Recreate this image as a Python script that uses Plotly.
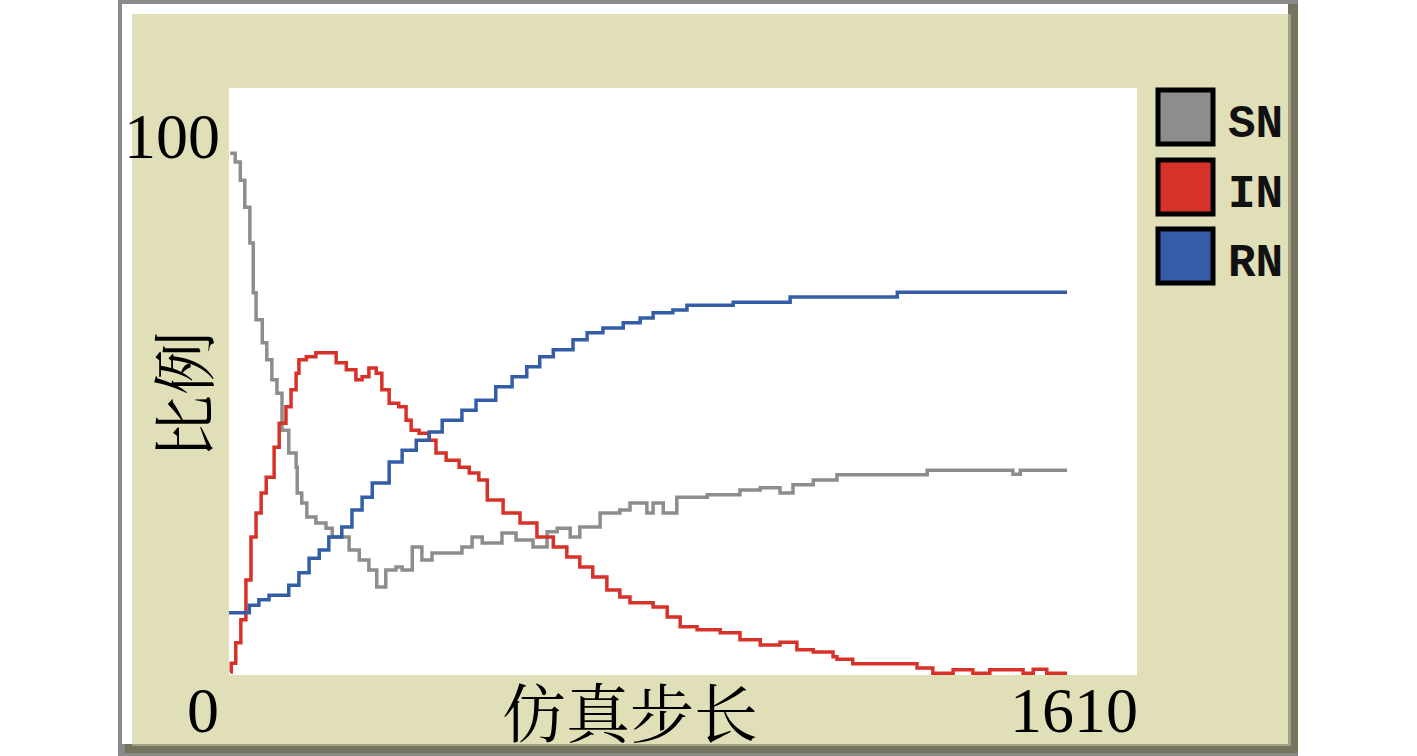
import plotly.graph_objects as go

# ---- data (step, percent) ----
series_names = ['SN', 'IN', 'RN']
series_colors = ['#8d8d8d', '#d73229', '#345da7']

sn_step = [2, 11, 20, 28, 37, 43, 48, 59, 67, 76, 85, 94, 106, 119, 121, 129, 138, 154, 172, 183,
           200, 213, 231, 248, 262, 278, 296, 307, 325, 342, 360, 385, 413, 431, 449, 484, 509, 539, 564, 582,
           605, 622, 658, 693, 711, 741, 752, 770, 794, 848, 906, 942, 977, 1000, 1036, 1078, 1238, 1380, 1390, 1403,
           1486]
sn_pct = [88.9, 87.4, 84.3, 79.7, 73.6, 65.1, 60.5, 56.6, 53.7, 50.3, 48.0, 41.7, 37.8, 35.4, 31.0, 29.3, 26.9, 25.9, 25.0, 23.5,
          23.5, 21.3, 19.6, 17.9, 15.0, 17.9, 18.4, 17.9, 21.8, 19.6, 20.8, 20.8, 21.8, 23.5, 22.5, 24.2, 23.0, 21.8, 24.4, 25.0,
          23.5, 25.2, 27.6, 28.1, 29.3, 27.6, 29.3, 27.6, 30.3, 30.7, 31.5, 31.9, 31.0, 32.4, 33.2, 34.1, 34.9, 34.9, 34.2, 34.9,
          34.9]

in_step = [2, 4, 12, 21, 30, 39, 48, 57, 66, 80, 89, 101, 110, 119, 124, 137, 154, 172, 190, 208,
           225, 236, 248, 261, 271, 284, 301, 314, 323, 337, 355, 367, 385, 408, 426, 443, 458, 486, 516, 546,
           575, 599, 622, 645, 670, 693, 711, 752, 777, 800, 830, 871, 906, 942, 977, 1007, 1036, 1071, 1078, 1106,
           1185, 1220, 1248, 1284, 1319, 1349, 1397, 1408, 1426, 1450, 1486]
in_pct = [0.5, 2.0, 5.5, 9.4, 16.2, 23.5, 27.6, 31.0, 33.7, 38.8, 42.9, 45.7, 48.6, 51.4, 53.7, 54.2, 54.9, 54.9, 53.2, 52.0,
          50.3, 50.8, 52.3, 51.4, 48.6, 46.3, 45.7, 43.4, 41.7, 41.2, 40.0, 37.8, 36.6, 35.4, 34.4, 33.2, 29.8, 27.6, 25.9, 23.5,
          21.8, 20.1, 18.4, 16.7, 14.5, 13.3, 12.3, 11.6, 9.9, 8.2, 7.7, 7.2, 6.0, 5.1, 5.6, 4.3, 3.9, 3.1, 2.7, 1.9,
          1.9, 1.2, 0.3, 0.9, 0.3, 0.9, 0.9, 0.3, 1.0, 0.3, 0.3]

rn_step = [0, 30, 36, 53, 71, 103, 106, 124, 142, 160, 177, 200, 218, 236, 254, 284, 307, 332, 355, 378,
           413, 438, 473, 502, 528, 551, 575, 610, 635, 663, 699, 729, 752, 787, 812, 894, 995, 1185, 1486]
rn_pct = [10.6, 10.6, 11.9, 12.8, 13.6, 13.6, 15.3, 17.4, 19.9, 21.3, 23.5, 25.2, 28.1, 30.3, 32.7, 36.3, 38.3, 40.0, 41.4, 43.4,
          45.1, 46.8, 49.1, 50.8, 52.5, 54.2, 55.4, 57.1, 58.3, 59.1, 60.0, 60.8, 61.7, 62.2, 63.0, 63.5, 64.4, 65.2, 65.2]

x_range = [0, 1610]
y_range = [0, 100]
x_title = '仿真步长'
y_title = '比例'

# ---- page geometry (page pixels); body margin is removed by post_script ----
W, H = 1417, 756
L, R, T, B = 229, 1137, 88, 675


def xp(px):
    return (px - L) / (R - L)


def yp(py):
    return (B - py) / (B - T)


def rect(x0, y0, x1, y1, fill):
    return dict(type='rect', xref='paper', yref='paper', layer='below',
                x0=xp(x0), x1=xp(x1), y0=yp(y0), y1=yp(y1), fillcolor=fill,
                line=dict(color=fill, width=0))


fig = go.Figure()
for name, color, xs, ys in zip(series_names, series_colors,
                               [sn_step, in_step, rn_step], [sn_pct, in_pct, rn_pct]):
    fig.add_trace(go.Scatter(x=xs, y=ys, mode='lines', name=name,
                             line=dict(color=color, width=3.5, shape='hv')))

# window frame: grey outline, white highlight, olive shadow, beige panel, white plot area
shapes = [
    rect(118, -2, 1298, 760, '#8a8a8a'),
    rect(125, 4, 1298, 753, '#76745e'),
    rect(122, 4, 1288, 744, '#ffffff'),
    rect(132, 14, 1291, 746, '#a3a184'),
    rect(132, 14, 1288, 744, '#e0dfb8'),
    rect(L, T, R, B, '#ffffff'),
]

annotations = []
box_tops = [87, 157, 226]
for name, color, top in zip(series_names, series_colors, box_tops):
    shapes.append(dict(type='rect', xref='paper', yref='paper',
                       x0=xp(1158), x1=xp(1213), y0=yp(top + 3), y1=yp(top + 57),
                       fillcolor=color, line=dict(color='#000000', width=5)))
    annotations.append(dict(text='<b>' + name + '</b>',
                            x=xp(1226), y=yp(top + 38), xanchor='left', yanchor='middle',
                            font=dict(family='Liberation Mono', size=46, color='#111111')))

num_font = dict(family='Liberation Serif', size=64, color='#000000')
cjk_font = dict(family='Noto Serif CJK SC, Noto Sans CJK SC', size=64, color='#000000')
annotations += [
    dict(text=str(y_range[1]), x=xp(222), y=yp(137), xanchor='right', yanchor='middle', font=num_font),
    dict(text=str(x_range[0]), x=xp(221), y=yp(710), xanchor='right', yanchor='middle', font=num_font),
    dict(text=str(x_range[1]), x=xp(1140), y=yp(710), xanchor='right', yanchor='middle', font=num_font),
    dict(text=x_title, x=xp(630), y=yp(709), xanchor='center', yanchor='middle', font=cjk_font),
    dict(text=y_title, x=xp(180), y=yp(395), xanchor='center', yanchor='middle', font=cjk_font,
         textangle=-90),
]
for a in annotations:
    a['xref'] = 'paper'
    a['yref'] = 'paper'
    a['showarrow'] = False

fig.update_layout(
    width=W, height=H, autosize=False,
    margin=dict(l=L, r=W - R, t=T, b=H - B, pad=0),
    paper_bgcolor='#ffffff', plot_bgcolor='#ffffff',
    showlegend=False,
    shapes=shapes,
    annotations=annotations,
    xaxis=dict(range=x_range, visible=False, fixedrange=True),
    yaxis=dict(range=y_range, visible=False, fixedrange=True),
)

fig.write_html("out.html", config={'displayModeBar': False},
               post_script="document.body.style.margin='0px';")
